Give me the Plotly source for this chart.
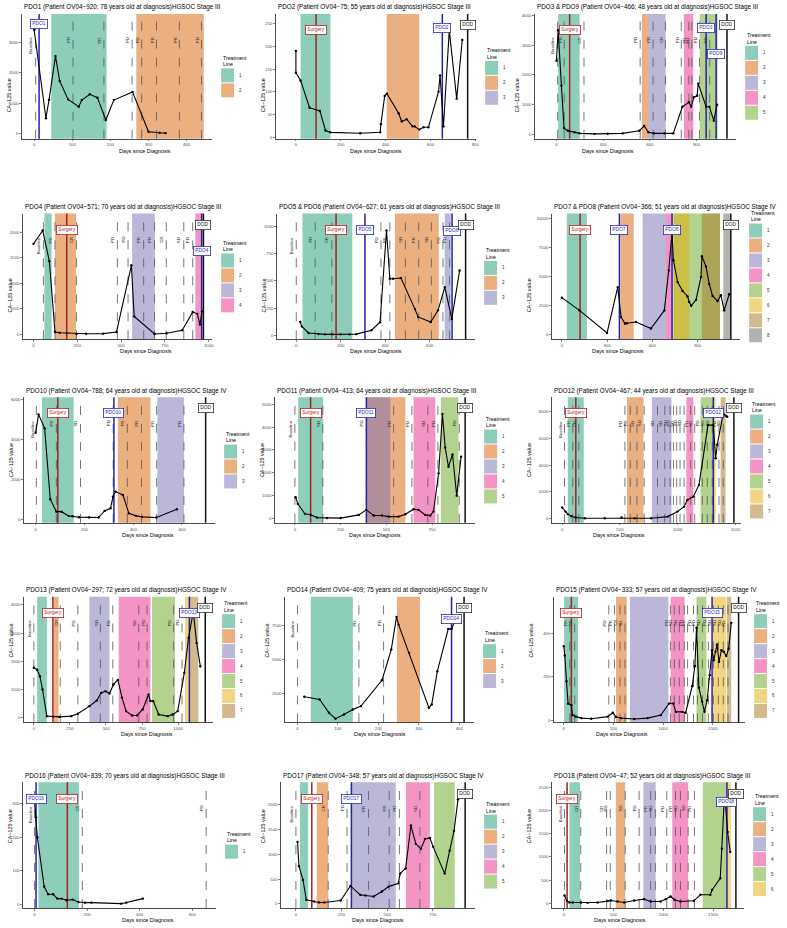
import plotly.graph_objects as go

W, H = 787, 928

# ------------------------------------------------------------------ data
# PDO1
p1_title = "PDO1 (Patient OV04\u2212920; 78 years old at diagnosis)HGSOC Stage III"
p1_days = [0, 31, 39, 56, 67, 89, 117, 125, 146, 166, 188, 209, 258, 300, 329, 345]
p1_ca125 = [3420, 500, 1100, 2550, 1730, 1120, 880, 1100, 1290, 1180, 440, 1100, 1370, 55, 20, 10]
p1_tx_line = [1, 2]
p1_tx_start = [45, 268]
p1_tx_end = [190, 445]
p1_legend = [1, 2]
p1_eval_days = [4, 102, 183, 257, 282, 321, 381, 439]
p1_eval_labels = ["Baseline", "PR", "PR", "PD", "PD", "PR", "PR", "PD"]
p1_surgery = []
p1_pdo_names = ["PDO1"]
p1_pdo_days = [13]
p1_dod = []

# PDO2
p2_title = "PDO2 (Patient OV04\u221275; 55 years old at diagnosis)HGSOC Stage III"
p2_days = [0, 0, 21, 61, 107, 132, 154, 287, 376, 379, 396, 406, 458, 472, 494, 520, 530, 550, 569, 591, 636, 643, 658, 684, 717, 742]
p2_ca125 = [190, 142, 125, 65, 58, 15, 11, 9, 11, 29, 91, 96, 53, 35, 40, 24, 24, 17, 22, 22, 100, 136, 24, 235, 85, 214]
p2_tx_line = [1, 2]
p2_tx_start = [21, 405]
p2_tx_end = [154, 550]
p2_legend = [1, 2, 3]
p2_eval_days = []
p2_eval_labels = []
p2_surgery = [90]
p2_pdo_names = ["PDO2"]
p2_pdo_days = [653]
p2_dod = [766]

# PDO3 & PDO9
p3_title = "PDO3 & PDO9 (Patient OV04\u2212466; 48 years old at diagnosis)HGSOC Stage III"
p3_days = [0, 11, 32, 49, 74, 117, 149, 245, 330, 426, 532, 564, 592, 628, 692, 751, 809, 851, 866, 883, 904, 911, 962, 983, 1011, 1032]
p3_ca125 = [2470, 3500, 1630, 200, 110, 56, 22, 5, 10, 22, 110, 270, 56, 22, 22, 22, 920, 1070, 920, 1240, 1290, 1700, 920, 920, 450, 990]
p3_tx_line = [1, 2, 3, 4, 5]
p3_tx_start = [11, 549, 589, 819, 921]
p3_tx_end = [149, 589, 702, 879, 1036]
p3_legend = [1, 2, 3, 4, 5]
p3_eval_days = [8, 50, 177, 538, 621, 700, 802, 851, 870, 919, 985]
p3_eval_labels = ["Baseline", "PR", "CR", "PD", "PR", "CR", "PD", "PD", "PD", "PD", "SD"]
p3_surgery = [85]
p3_pdo_names = ["PDO3", "PDO9"]
p3_pdo_days = [962, 1026]
p3_dod = [1096]

# PDO4
p4_title = "PDO4 (Patient OV04\u2212571; 70 years old at diagnosis)HGSOC Stage III"
p4_days = [0, 53, 91, 123, 150, 190, 246, 300, 398, 474, 559, 575, 691, 760, 849, 909, 935, 950, 962]
p4_ca125 = [1770, 2030, 1430, 45, 30, 25, 5, 10, 12, 45, 1350, 350, 5, 20, 78, 436, 400, 190, 450]
p4_tx_line = [1, 2, 3, 4]
p4_tx_start = [63, 123, 563, 924]
p4_tx_end = [104, 243, 693, 960]
p4_legend = [1, 2, 3, 4]
p4_eval_days = [57, 123, 246, 479, 540, 629, 691, 758, 858, 909]
p4_eval_labels = ["Baseline", "PR", "CR", "PD", "PD", "PR", "PR", "CR", "SD", "PD"]
p4_surgery = [190]
p4_pdo_names = ["PDO4"]
p4_pdo_days = [960]
p4_dod = [970]

# PDO5 & PDO6
p5_title = "PDO5 & PDO6 (Patient OV04\u2212627; 61 years old at diagnosis)HGSOC Stage III"
p5_days = [18, 25, 55, 100, 130, 160, 200, 240, 270, 338, 377, 406, 421, 436, 471, 534, 548, 605, 638, 668, 700, 735]
p5_ca125 = [122, 80, 21, 12, 8, 8, 8, 8, 10, 46, 119, 962, 519, 519, 525, 240, 168, 122, 229, 442, 150, 595]
p5_tx_line = [1, 2, 3]
p5_tx_start = [28, 444, 668]
p5_tx_end = [252, 641, 695]
p5_legend = [1, 2, 3]
p5_eval_days = [0, 85, 160, 381, 421, 491, 551, 608, 660, 690]
p5_eval_labels = ["Baseline", "PR", "CR", "PD", "PR", "SD", "PR", "SD", "PD", "PD"]
p5_surgery = [179]
p5_pdo_names = ["PDO5", "PDO6"]
p5_pdo_days = [309, 701]
p5_dod = [762]

# PDO7 & PDO8
p6_title = "PDO7 & PDO8 (Patient OV04\u2212366; 51 years old at diagnosis)HGSOC Stage IV"
p6_days = [0, 117, 300, 371, 393, 419, 431, 492, 591, 680, 709, 731, 740, 768, 801, 834, 845, 858, 890, 923, 929, 956, 978, 1000, 1033, 1055, 1077, 1110]
p6_ca125 = [3190, 2100, 170, 4090, 1530, 970, 1000, 1110, 550, 2100, 5520, 8790, 6400, 4520, 3760, 3300, 2820, 2500, 3000, 4950, 6740, 5860, 4350, 3340, 2900, 3400, 2100, 3480]
p6_tx_line = [1, 2, 3, 4, 5, 6, 7, 8]
p6_tx_start = [33, 389, 536, 691, 740, 740, 929, 1071]
p6_tx_end = [166, 477, 691, 735, 1049, 845, 1049, 1117]
p6_legend = [1, 2, 3, 4, 5, 6, 7, 8]
p6_eval_days = []
p6_eval_labels = []
p6_surgery = [121]
p6_pdo_names = ["PDO7", "PDO8"]
p6_pdo_days = [382, 731]
p6_dod = [1121]

# PDO10
p7_title = "PDO10 (Patient OV04\u2212788; 64 years old at diagnosis)HGSOC Stage IV"
p7_days = [0, 12, 37, 60, 85, 106, 135, 151, 178, 219, 258, 283, 307, 317, 328, 358, 382, 412, 436, 495, 579]
p7_ca125 = [4340, 5260, 4560, 1030, 410, 410, 200, 180, 134, 124, 116, 448, 580, 1160, 1410, 1240, 330, 200, 150, 116, 530]
p7_tx_line = [1, 2, 3]
p7_tx_start = [26, 337, 499]
p7_tx_end = [156, 471, 608]
p7_legend = [1, 2, 3]
p7_eval_days = [3, 85, 184, 318, 376, 434, 496, 608]
p7_eval_labels = ["Baseline", "PR", "SD", "PD", "PR", "PR", "PR", "PD"]
p7_surgery = [91]
p7_pdo_names = ["PDO10"]
p7_pdo_days = [321]
p7_dod = [697]

# PDO11
p8_title = "PDO11 (Patient OV04\u2212413; 64 years old at diagnosis)HGSOC Stage III"
p8_days = [4, 16, 55, 86, 122, 176, 250, 349, 391, 431, 476, 513, 567, 604, 649, 676, 713, 740, 758, 786, 807, 822, 840, 862, 885, 909]
p8_ca125 = [920, 630, 190, 150, 26, 5, 5, 145, 365, 115, 115, 70, 70, 175, 395, 365, 145, 115, 290, 1970, 4580, 3100, 2260, 2800, 990, 2700]
p8_tx_line = [1, 2, 3, 4, 5]
p8_tx_start = [18, 391, 391, 649, 798]
p8_tx_end = [154, 604, 522, 768, 895]
p8_legend = [1, 2, 3, 4, 5]
p8_eval_days = [0, 153, 391, 540, 640, 727, 782, 899]
p8_eval_labels = ["Baseline", "SD", "PD", "PR", "PD", "SD", "PD", "PD"]
p8_surgery = [86]
p8_pdo_names = ["PDO11"]
p8_pdo_days = [391]
p8_dod = [931]

# PDO12
p9_title = "PDO12 (Patient OV04\u2212467; 44 years old at diagnosis)HGSOC Stage III"
p9_days = [0, 29, 49, 80, 118, 196, 368, 513, 627, 770, 914, 997, 1055, 1083, 1135, 1184, 1262, 1308, 1328, 1342, 1394, 1414, 1428]
p9_ca125 = [840, 540, 350, 200, 100, 50, 50, 100, 50, 50, 170, 540, 910, 1410, 1650, 2520, 6960, 6960, 4500, 5500, 7830, 7650, 7580]
p9_tx_line = [1, 2, 3, 4, 5, 6, 7]
p9_tx_start = [49, 560, 776, 1075, 1198, 1314, 1371]
p9_tx_end = [187, 704, 946, 1135, 1314, 1328, 1414]
p9_legend = [1, 2, 3, 4, 5, 6, 7]
p9_eval_days = [20, 92, 144, 543, 589, 647, 710, 825, 888, 934, 963, 991, 1020, 1055, 1112, 1147, 1213, 1256, 1299, 1357, 1394]
p9_eval_labels = ["Baseline", "PR", "CR", "PD", "PR", "SD", "SD", "SD", "SD", "SD", "PD", "SD", "SD", "SD", "PD", "SD", "PD", "SD", "SD", "PD", "SD"]
p9_surgery = [118]
p9_pdo_names = ["PDO12"]
p9_pdo_days = [1308]
p9_dod = [1486]

# PDO13
p10_title = "PDO13 (Patient OV04\u2212297; 72 years old at diagnosis)HGSOC Stage IV"
p10_days = [0, 23, 42, 60, 90, 132, 178, 259, 305, 385, 436, 466, 497, 524, 552, 582, 611, 639, 681, 715, 754, 795, 808, 828, 865, 927, 962, 997, 1043, 1072, 1105, 1128, 1154]
p10_ca125 = [1770, 1700, 1470, 1000, 57, 40, 30, 57, 140, 410, 610, 880, 940, 860, 1180, 1340, 710, 235, 82, 82, 294, 824, 589, 589, 117, 57, 117, 235, 1590, 2830, 3750, 2650, 1820]
p10_tx_line = [1, 2, 3, 4, 5, 6, 7]
p10_tx_start = [23, 138, 385, 588, 819, 1048, 1082]
p10_tx_end = [90, 171, 524, 808, 978, 1082, 1140]
p10_legend = [1, 2, 3, 4, 5, 6, 7]
p10_eval_days = [0, 183, 305, 461, 547, 727, 785, 969, 1027]
p10_eval_labels = ["Baseline", "CR", "PD", "SD", "PD", "SD", "PD", "PD", "PD"]
p10_surgery = [132]
p10_pdo_names = ["PDO13"]
p10_pdo_days = [1078]
p10_dod = [1188]

# PDO14
p11_title = "PDO14 (Patient OV04\u2212409; 75 years old at diagnosis)HGSOC Stage IV"
p11_days = [17, 55, 78, 94, 115, 137, 157, 209, 232, 245, 250, 276, 325, 332, 346, 373, 381, 387]
p11_ca125 = [2260, 2060, 1090, 660, 970, 1330, 1580, 3470, 5710, 8100, 7530, 5470, 1460, 1700, 4130, 7220, 7220, 7650]
p11_tx_line = [1, 2]
p11_tx_start = [33, 246]
p11_tx_end = [137, 303]
p11_legend = [1, 2, 3]
p11_eval_days = [0, 152, 213]
p11_eval_labels = ["Baseline", "PD", "PD"]
p11_surgery = []
p11_pdo_names = ["PDO14"]
p11_pdo_days = [381]
p11_dod = [412]

# PDO15
p12_title = "PDO15 (Patient OV04\u2212333; 57 years old at diagnosis)HGSOC Stage IV"
p12_days = [0, 10, 27, 43, 77, 87, 120, 177, 277, 443, 493, 527, 577, 710, 843, 977, 1060, 1103, 1127, 1193, 1227, 1293, 1320, 1336, 1360, 1393, 1416, 1443, 1470, 1493, 1510, 1527, 1543, 1563, 1587, 1610, 1636, 1660, 1686]
p12_ca125 = [342, 299, 180, 76, 69, 23, 16, 9, 6, 16, 34, 14, 9, 5, 9, 23, 77, 77, 38, 38, 34, 157, 250, 427, 150, 85, 38, 92, 208, 323, 277, 316, 350, 270, 323, 316, 296, 330, 450]
p12_tx_line = [1, 2, 3, 4, 5, 6, 7]
p12_tx_start = [3, 526, 666, 1076, 1336, 1503, 1643]
p12_tx_end = [143, 633, 1053, 1216, 1436, 1636, 1686]
p12_legend = [1, 2, 3, 4, 5, 6, 7]
p12_eval_days = [60, 110, 453, 510, 566, 616, 1073, 1113, 1163, 1213, 1246, 1306, 1346, 1396, 1456, 1506, 1556, 1606, 1653]
p12_eval_labels = ["PR", "CR", "PD", "PR", "CR", "SD", "PD", "SD", "SD", "PD", "PD", "PD", "PD", "SD", "PD", "SD", "SD", "SD", "PD"]
p12_surgery = [76]
p12_pdo_names = ["PDO15"]
p12_pdo_days = [1493]
p12_dod = [1760]

# PDO16
p13_title = "PDO16 (Patient OV04\u2212839; 70 years old at diagnosis)HGSOC Stage III"
p13_days = [0, 6, 11, 37, 52, 71, 87, 103, 122, 145, 167, 192, 217, 330, 349, 412]
p13_ca125 = [308, 259, 200, 53, 31, 31, 18, 18, 13, 15, 8, 6, 6, 3, 6, 18]
p13_tx_line = [1]
p13_tx_start = [15]
p13_tx_end = [169]
p13_legend = [1]
p13_eval_days = [0, 182, 653]
p13_eval_labels = ["Baseline", "CR", "PD"]
p13_surgery = [125]
p13_pdo_names = ["PDO16"]
p13_pdo_days = [6]
p13_dod = []

# PDO17
p14_title = "PDO17 (Patient OV04\u2212348; 57 years old at diagnosis)HGSOC Stage IV"
p14_days = [9, 17, 39, 57, 100, 127, 155, 245, 299, 353, 381, 426, 471, 508, 561, 571, 601, 630, 657, 685, 707, 734, 752, 815, 842, 866, 888]
p14_ca125 = [1250, 760, 480, 80, 47, 27, 27, 67, 360, 180, 167, 147, 247, 347, 413, 613, 714, 1580, 1210, 1110, 1310, 1330, 1150, 610, 1070, 1470, 2110]
p14_tx_line = [1, 2, 3, 4, 5]
p14_tx_start = [22, 114, 304, 603, 757]
p14_tx_end = [67, 177, 547, 734, 870]
p14_legend = [1, 2, 3, 4, 5]
p14_eval_days = [0, 177, 280, 398, 511, 567, 679]
p14_eval_labels = ["Baseline", "CR", "PD", "PR", "PR", "PD", "SD"]
p14_surgery = [87]
p14_pdo_names = ["PDO17"]
p14_pdo_days = [304]
p14_dod = [927]

# PDO18
p15_title = "PDO18 (Patient OV04\u221247; 52 years old at diagnosis)HGSOC Stage III"
p15_days = [7, 30, 57, 90, 173, 240, 340, 440, 473, 540, 607, 707, 807, 873, 973, 1023, 1073, 1113, 1173, 1307, 1373, 1473, 1490, 1573, 1590, 1613, 1623, 1647, 1673]
p15_ca125 = [165, 50, 14, 14, 14, 5, 14, 43, 57, 36, 14, 57, 86, 36, 36, 86, 143, 72, 36, 50, 180, 180, 286, 536, 1180, 2250, 2180, 1540, 1110]
p15_tx_line = [1, 2, 3, 4, 5, 6]
p15_tx_start = [57, 523, 800, 1090, 1397, 1640]
p15_tx_end = [163, 617, 923, 1250, 1640, 1680]
p15_legend = [1, 2, 3, 4, 5, 6]
p15_eval_days = [7, 170, 430, 467, 617, 757, 873, 920, 1035, 1123, 1173, 1250, 1313]
p15_eval_labels = ["Baseline", "CR", "CR", "PD", "SD", "PD", "PR", "SD", "PD", "PR", "SD", "SD", "PD"]
p15_surgery = [33]
p15_pdo_names = ["PDO18"]
p15_pdo_days = [1640]
p15_dod = [1730]

x_ticks = [
    [0, 100, 200, 300, 400], [0, 200, 400, 600, 800], [0, 300, 600, 900],
    [0, 250, 500, 750, 1000], [0, 200, 400, 600], [0, 300, 600, 900],
    [0, 200, 400, 600], [0, 250, 500, 750], [0, 500, 1000, 1500],
    [0, 250, 500, 750, 1000, 1250], [0, 100, 200, 300, 400], [0, 500, 1000, 1500],
    [0, 200, 400, 600], [0, 250, 500, 750], [0, 500, 1000, 1500],
]
y_ticks = [
    [0, 1000, 2000, 3000], [0, 50, 100, 150, 200, 250], [0, 1000, 2000, 3000, 4000],
    [0, 500, 1000, 1500, 2000], [0, 250, 500, 750, 1000], [0, 2500, 5000, 7500, 10000],
    [0, 2000, 4000, 6000], [0, 1000, 2000, 3000, 4000, 5000], [0, 2000, 4000, 6000, 8000],
    [0, 1000, 2000, 3000, 4000], [2500, 5000, 7500], [0, 200, 400],
    [0, 100, 200, 300], [0, 500, 1000, 1500, 2000], [0, 500, 1000, 1500, 2000, 2500],
]

# ------------------------------------------------------------------ assemble
def panel(n):
    g = globals()
    keys = ["title", "days", "ca125", "tx_line", "tx_start", "tx_end", "legend",
            "eval_days", "eval_labels", "surgery", "pdo_names", "pdo_days", "dod"]
    return {k: g[f"p{n}_{k}"] for k in keys}

PANELS = [panel(n) for n in range(1, 16)]

# geometry / style (pixels)
ROWS = [(13, 138), (213, 339), (397, 523), (597, 723), (783, 909)]
GEOM = [
    dict(x0=22, x1=213, row=0, xr=[-32, 467], yr=[-175, 3940]),
    dict(x0=277, x1=478, row=0, xr=[-89, 804], yr=[-3, 271]),
    dict(x0=537, x1=739, row=0, xr=[-138, 1155], yr=[-158, 4050]),
    dict(x0=23, x1=213, row=1, xr=[-60, 1020], yr=[-98, 2363]),
    dict(x0=278, x1=477, row=1, xr=[-87, 805], yr=[-37, 1117]),
    dict(x0=554, x1=743, row=1, xr=[-66, 1183], yr=[-367, 10384]),
    dict(x0=24, x1=216, row=2, xr=[-48, 736], yr=[-149, 6119]),
    dict(x0=276, x1=477, row=2, xr=[-109, 986], yr=[-206, 5320]),
    dict(x0=554, x1=744, row=2, xr=[-89, 1549], yr=[-296, 9037]),
    dict(x0=24, x1=214, row=3, xr=[-69, 1243], yr=[-166, 4286]),
    dict(x0=286, x1=476, row=3, xr=[-31, 437], yr=[386, 9570]),
    dict(x0=556, x1=748, row=3, xr=[-100, 1826], yr=[-11, 571]),
    dict(x0=23, x1=217, row=4, xr=[-44, 691], yr=[-10, 363]),
    dict(x0=282, x1=477, row=4, xr=[-82, 982], yr=[-86, 2454]),
    dict(x0=554, x1=747, row=4, xr=[-120, 1813], yr=[-107, 2618]),
]
PDO_Y = {2: [0.93], 1: [0.96], 3: [0.93, 0.72], 4: [0.74], 5: [0.905, 0.9],
         11: [0.86], 15: [0.88]}
DEFAULT_BOX_Y = 0.91
DOD_Y = 0.95

DARK2 = ["#1B9E77", "#D95F02", "#7570B3", "#E7298A", "#66A61E", "#E6AB02", "#A6761D", "#666666"]


def rgba(hexc, a=0.5):
    h = hexc.lstrip("#")
    return f"rgba({int(h[0:2],16)},{int(h[2:4],16)},{int(h[4:6],16)},{a})"


FONT = "Liberation Sans, Arial, Helvetica, sans-serif"
SURG_C = "#B22222"
PDO_C = "#2B2BB8"

fig = go.Figure()
shapes = []
annotations = []
layout = {}


def px(x):
    return x / W


def py(y):
    return 1 - y / H


for i, (p, g) in enumerate(zip(PANELS, GEOM), start=1):
    sfx = "" if i == 1 else str(i)
    xref, yref = "x" + sfx, "y" + sfx
    ydom = yref + " domain"
    top, bot = ROWS[g["row"]]
    axis_style = dict(showline=True, linecolor="#222", linewidth=0.8,
                      ticks="outside", ticklen=1.8, tickwidth=0.6, tickcolor="#333",
                      tickfont=dict(size=4.3, color="#4d4d4d", family=FONT),
                      tickformat="d", showgrid=False, zeroline=False)
    layout["xaxis" + sfx] = dict(domain=[px(g["x0"]), px(g["x1"])], range=g["xr"],
                                 anchor=yref, tickvals=x_ticks[i - 1], **axis_style)
    layout["yaxis" + sfx] = dict(domain=[py(bot), py(top)], range=g["yr"],
                                 anchor=xref, tickvals=y_ticks[i - 1], **axis_style)

    # treatment line rectangles
    for ln, s, e in zip(p["tx_line"], p["tx_start"], p["tx_end"]):
        shapes.append(dict(type="rect", xref=xref, yref=ydom, x0=s, x1=e, y0=0, y1=1,
                           fillcolor=rgba(DARK2[ln - 1]), line=dict(width=0), layer="below"))
    # response evaluation lines
    for d, lab in zip(p["eval_days"], p["eval_labels"]):
        shapes.append(dict(type="line", xref=xref, yref=ydom, x0=d, x1=d, y0=0, y1=1,
                           line=dict(color="#555555", width=0.8, dash="dash"), layer="below"))
        annotations.append(dict(x=d, y=0.83, xref=xref, yref=ydom, text=lab, textangle=-90,
                                showarrow=False, xshift=-4.5,
                                font=dict(size=4.3, color="#222", family=FONT)))
    # surgery / PDO / DOD
    for d in p["surgery"]:
        shapes.append(dict(type="line", xref=xref, yref=ydom, x0=d, x1=d, y0=0, y1=1,
                           line=dict(color="#A52222", width=1.5), layer="below"))
        annotations.append(dict(x=d, y=DEFAULT_BOX_Y, xref=xref, yref=ydom, text="Surgery",
                                showarrow=False, bgcolor="white", bordercolor=SURG_C,
                                borderwidth=0.8, borderpad=1.5,
                                font=dict(size=4.8, color=SURG_C, family=FONT)))
    ylist = PDO_Y.get(i, [])
    for k, (nm, d) in enumerate(zip(p["pdo_names"], p["pdo_days"])):
        shapes.append(dict(type="line", xref=xref, yref=ydom, x0=d, x1=d, y0=0, y1=1,
                           line=dict(color="#2323A8", width=1.5), layer="below"))
        yy = ylist[k] if k < len(ylist) else DEFAULT_BOX_Y
        annotations.append(dict(x=d, y=yy, xref=xref, yref=ydom, text=nm,
                                showarrow=False, bgcolor="white", bordercolor=PDO_C,
                                borderwidth=0.8, borderpad=1.5,
                                font=dict(size=4.8, color=PDO_C, family=FONT)))
    for d in p["dod"]:
        shapes.append(dict(type="line", xref=xref, yref=ydom, x0=d, x1=d, y0=0, y1=1,
                           line=dict(color="#111111", width=1.5), layer="below"))
        annotations.append(dict(x=d, y=DOD_Y, xref=xref, yref=ydom, text="DOD",
                                showarrow=False, bgcolor="white", bordercolor="#333",
                                borderwidth=0.8, borderpad=1.5,
                                font=dict(size=4.8, color="#111", family=FONT)))

    # CA-125 series
    fig.add_trace(go.Scatter(x=p["days"], y=p["ca125"], xaxis=xref, yaxis=yref,
                             mode="lines+markers", line=dict(color="black", width=1.1),
                             marker=dict(color="black", size=2.4), showlegend=False,
                             hoverinfo="skip"))

    # title and axis titles
    annotations.append(dict(x=px(g["x0"]), y=py(top - 6.5), xref="paper", yref="paper",
                            text=p["title"], xanchor="left", yanchor="middle", showarrow=False,
                            font=dict(size=6.3, color="black", family=FONT)))
    annotations.append(dict(x=px((g["x0"] + g["x1"]) / 2), y=py(bot + 12), xref="paper",
                            yref="paper", text="Days since Diagnosis", showarrow=False,
                            yanchor="middle", font=dict(size=5.4, color="black", family=FONT)))
    annotations.append(dict(x=px(g["x0"] - 18), y=py((top + bot) / 2), xref="paper",
                            yref="paper", text="CA\u2212125 value", textangle=-90, showarrow=False,
                            font=dict(size=5.4, color="black", family=FONT)))

    # legend (Treatment Line)
    n = len(p["legend"])
    block = 14 + n * 15
    ytop = (top + bot) / 2 - block / 2
    lx = g["x1"] + 9
    annotations.append(dict(x=px(lx), y=py(ytop + 3.2), xref="paper", yref="paper",
                            text="Treatment", xanchor="left", yanchor="middle", showarrow=False,
                            font=dict(size=5.2, color="black", family=FONT)))
    annotations.append(dict(x=px(lx), y=py(ytop + 9.8), xref="paper", yref="paper",
                            text="Line", xanchor="left", yanchor="middle", showarrow=False,
                            font=dict(size=5.2, color="black", family=FONT)))
    for k, ln in enumerate(p["legend"]):
        k0 = ytop + 14 + k * 15
        shapes.append(dict(type="rect", xref="paper", yref="paper", x0=px(lx), x1=px(lx + 13),
                           y0=py(k0 + 14), y1=py(k0), fillcolor=rgba(DARK2[ln - 1]),
                           line=dict(width=0)))
        annotations.append(dict(x=px(lx + 16), y=py(k0 + 7), xref="paper", yref="paper",
                                text=str(ln), xanchor="left", yanchor="middle", showarrow=False,
                                font=dict(size=4.5, color="#333", family=FONT)))

fig.update_layout(
    width=W, height=H, margin=dict(l=0, r=0, t=0, b=0),
    paper_bgcolor="white", plot_bgcolor="white", showlegend=False,
    shapes=shapes, annotations=annotations, font=dict(family=FONT), **layout)

fig.write_html("out.html", config={"displayModeBar": False, "staticPlot": True},
               post_script="document.body.style.margin='0';document.body.style.overflow='hidden';")
